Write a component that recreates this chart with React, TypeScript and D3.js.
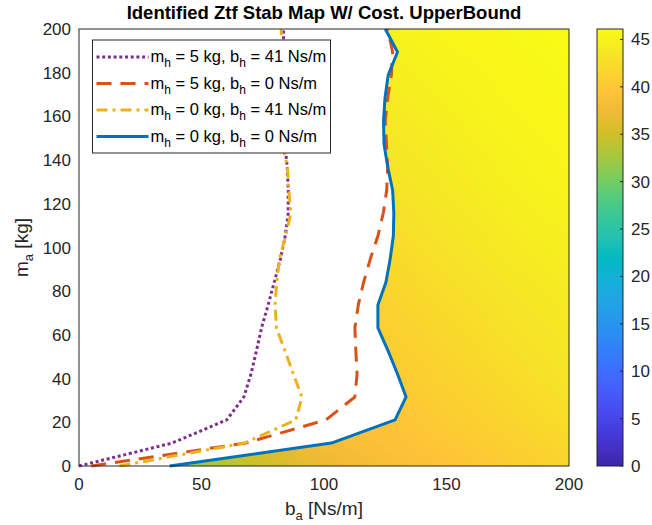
import React, { useMemo } from "react";
import * as d3 from "d3";

// Actuator mass grid at which each stability boundary was evaluated [kg]
const massGrid = [0, 10.5, 21.1, 31.6, 42.1, 52.6, 63.2, 73.7, 84.2, 94.7, 105.3, 115.8, 126.3, 136.8, 147.4, 157.9, 168.4, 178.9, 189.5, 200];

// Boundary damping b_a [Ns/m] for each human model
const boundM5B41 = [0, 38, 60.3, 67.3, 70.2, 72.4, 74.5, 77.2, 79.7, 82.2, 84.2, 85.4, 85.4, 85, 84, 84, 84, 83.5, 83.5, 83.5];
const boundM5B0 = [5, 68, 100.8, 112.6, 113.5, 113, 112.6, 114, 116.2, 118.9, 122, 124.2, 125.6, 126, 125.5, 125, 126, 127.5, 128, 126];
const boundM0B41 = [16.5, 67.5, 88.5, 91, 87.5, 84.1, 80.6, 80, 80.7, 81.8, 84.3, 86.5, 85.6, 85.1, 83, 83, 83, 83, 83, 82.5];
const boundM0B0 = [37, 103, 129, 133.5, 130, 126.2, 122, 122, 125.3, 127, 128.3, 128.5, 128, 126, 124.5, 124.3, 124.9, 126.2, 130, 125];

// Cost upper bound over the stable region (coarse sample grid)
const costDamping = [30, 50, 75, 100, 125, 150, 175, 200];
const costMass = [0, 10, 20, 40, 70, 100, 130, 160, 200];
const costRow0 = [30, 32.5, 35, 37, 38.5, 39.5, 40.5, 41.5];
const costRow10 = [31, 33.5, 36, 38, 39, 40, 41, 42];
const costRow20 = [32, 34.5, 37, 39, 39.5, 40.5, 41.5, 42.5];
const costRow40 = [34, 36.5, 38.5, 40, 40.3, 41.3, 42.3, 43.3];
const costRow70 = [36, 38.5, 40, 41, 41.2, 42.2, 43.2, 44];
const costRow100 = [38, 40, 41.5, 42, 42.2, 43.2, 44.1, 44.7];
const costRow130 = [40, 41.5, 42.5, 43, 43.2, 44, 44.8, 45.3];
const costRow160 = [41.5, 42.5, 43.5, 43.8, 44, 44.7, 45.3, 45.7];
const costRow200 = [43, 44, 44.5, 44.8, 45, 45.5, 45.8, 46];
const costRows = [costRow0, costRow10, costRow20, costRow40, costRow70, costRow100, costRow130, costRow160, costRow200];

const xTicks = [0, 50, 100, 150, 200];
const yTicks = [0, 20, 40, 60, 80, 100, 120, 140, 160, 180, 200];
const colorTicks = [0, 5, 10, 15, 20, 25, 30, 35, 40, 45];
const colorMax = 46.1;

// parula colormap samples
const parula = [
  [0.2422, 0.1504, 0.6603], [0.2647, 0.1978, 0.7952], [0.2783, 0.2559, 0.8991],
  [0.281, 0.3228, 0.9579], [0.2699, 0.3892, 0.9906], [0.2206, 0.4603, 0.9973],
  [0.1786, 0.5289, 0.9682], [0.154, 0.5902, 0.9218], [0.1248, 0.6459, 0.8883],
  [0.0689, 0.6948, 0.8394], [0.0067, 0.7312, 0.766], [0.1408, 0.7584, 0.6842],
  [0.2161, 0.7843, 0.5923], [0.3406, 0.8008, 0.4789], [0.5044, 0.7993, 0.348],
  [0.672, 0.7793, 0.2227], [0.8203, 0.7498, 0.1535], [0.9393, 0.7288, 0.21],
  [0.997, 0.7659, 0.2199], [0.9786, 0.8386, 0.1766], [0.9597, 0.9135, 0.1423],
  [0.9769, 0.9839, 0.0805],
].map(([r, g, b]) => d3.rgb(r * 255, g * 255, b * 255).formatHex());

const W = 652;
const H = 525;
const plot = { left: 79, right: 569, top: 29, bottom: 466 };
const cbar = { left: 597, right: 623 };
const FONT = "'Liberation Sans', Arial, Helvetica, sans-serif";

const series = [
  { key: "m5b41", values: boundM5B41, color: "#7E2F8E", dash: "3 2.7", mh: "5", bh: "41" },
  { key: "m5b0", values: boundM5B0, color: "#D95319", dash: "15 9", mh: "5", bh: "0" },
  { key: "m0b41", values: boundM0B41, color: "#EDB120", dash: "11 5 3 5", mh: "0", bh: "41" },
  { key: "m0b0", values: boundM0B0, color: "#0072BD", dash: null, mh: "0", bh: "0" },
];

function costAt(b: number, m: number) {
  const bc = Math.max(costDamping[0], Math.min(costDamping[costDamping.length - 1], b));
  const mc = Math.max(costMass[0], Math.min(costMass[costMass.length - 1], m));
  let i = d3.bisectRight(costDamping, bc) - 1;
  i = Math.max(0, Math.min(costDamping.length - 2, i));
  let j = d3.bisectRight(costMass, mc) - 1;
  j = Math.max(0, Math.min(costMass.length - 2, j));
  const tx = (bc - costDamping[i]) / (costDamping[i + 1] - costDamping[i]);
  const ty = (mc - costMass[j]) / (costMass[j + 1] - costMass[j]);
  const v00 = costRows[j][i], v10 = costRows[j][i + 1];
  const v01 = costRows[j + 1][i], v11 = costRows[j + 1][i + 1];
  return (v00 * (1 - tx) + v10 * tx) * (1 - ty) + (v01 * (1 - tx) + v11 * tx) * ty;
}

export default function App() {
  const x = d3.scaleLinear().domain([0, 200]).range([plot.left, plot.right]);
  const y = d3.scaleLinear().domain([0, 200]).range([plot.bottom, plot.top]);
  const cy = d3.scaleLinear().domain([0, colorMax]).range([plot.bottom, plot.top]);
  const color = d3.scaleSequential(d3.piecewise(d3.interpolateRgb, parula)).domain([0, colorMax]);

  const heatmapUrl = useMemo(() => {
    const w = plot.right - plot.left;
    const h = plot.bottom - plot.top;
    const canvas = document.createElement("canvas");
    canvas.width = w;
    canvas.height = h;
    const ctx = canvas.getContext("2d");
    if (!ctx) return "";
    const lut = d3.range(512).map((k) => d3.rgb(color((k / 511) * colorMax)));
    const img = ctx.createImageData(w, h);
    for (let py = 0; py < h; py++) {
      const m = y.invert(plot.top + py + 0.5);
      for (let px = 0; px < w; px++) {
        const b = x.invert(plot.left + px + 0.5);
        const v = costAt(b, m);
        const c = lut[Math.max(0, Math.min(511, Math.round((v / colorMax) * 511)))];
        const o = (py * w + px) * 4;
        img.data[o] = c.r;
        img.data[o + 1] = c.g;
        img.data[o + 2] = c.b;
        img.data[o + 3] = 255;
      }
    }
    ctx.putImageData(img, 0, 0);
    return canvas.toDataURL();
  }, []);

  const line = d3
    .line<number>()
    .x((d) => x(d))
    .y((_, i) => y(massGrid[i]));

  // stable region: to the right of the m_h = 0, b_h = 0 boundary
  const stablePts: [number, number][] = boundM0B0.map((b, i) => [x(b), y(massGrid[i])]);
  stablePts.push([x(200), y(200)], [x(200), y(0)]);
  const stablePath = "M" + stablePts.map((p) => p.join(",")).join("L") + "Z";

  const gradStops = parula.map((c, i) => ({ offset: i / (parula.length - 1), c }));

  const legend = { x: 92.5, y: 40, w: 238, h: 113, row: 26.5 };

  return (
    <svg width={W} height={H} style={{ position: "absolute", left: 0, top: 0, background: "#fff" }} fontFamily={FONT}>
      <defs>
        <clipPath id="stable">
          <path d={stablePath} />
        </clipPath>
        <linearGradient id="cbGrad" x1="0" y1="1" x2="0" y2="0">
          {gradStops.map((s, i) => (
            <stop key={i} offset={s.offset} stopColor={s.c} />
          ))}
        </linearGradient>
      </defs>

      <image
        href={heatmapUrl}
        x={plot.left}
        y={plot.top}
        width={plot.right - plot.left}
        height={plot.bottom - plot.top}
        preserveAspectRatio="none"
        clipPath="url(#stable)"
      />

      {series.map((s) => (
        <path
          key={s.key}
          d={line(s.values) || ""}
          fill="none"
          stroke={s.color}
          strokeWidth={3}
          strokeDasharray={s.dash || undefined}
          strokeLinejoin="round"
        />
      ))}

      <rect
        x={plot.left}
        y={plot.top}
        width={plot.right - plot.left}
        height={plot.bottom - plot.top}
        fill="none"
        stroke="#262626"
        strokeWidth={1}
      />

      {xTicks.map((t) => (
        <text key={"x" + t} x={x(t)} y={plot.bottom + 24} textAnchor="middle" fontSize={17} fill="#262626">
          {t}
        </text>
      ))}
      {yTicks.map((t) => (
        <text key={"y" + t} x={plot.left - 8} y={y(t) + 6} textAnchor="end" fontSize={17} fill="#262626">
          {t}
        </text>
      ))}

      <text x={(plot.left + plot.right) / 2} y={19} textAnchor="middle" fontSize={18.5} fontWeight="bold" fill="#000">
        Identified Ztf Stab Map W/ Cost. UpperBound
      </text>

      <text x={(plot.left + plot.right) / 2} y={515} textAnchor="middle" fontSize={19} fill="#262626">
        <tspan>b</tspan>
        <tspan dy={5} fontSize={13}>a</tspan>
        <tspan dy={-5}> [Ns/m]</tspan>
      </text>
      <text transform={`translate(28,${(plot.top + plot.bottom) / 2}) rotate(-90)`} textAnchor="middle" fontSize={19} fill="#262626">
        <tspan>m</tspan>
        <tspan dy={5} fontSize={13}>a</tspan>
        <tspan dy={-5}> [kg]</tspan>
      </text>

      <g>
        <rect x={legend.x} y={legend.y} width={legend.w} height={legend.h} fill="#fff" stroke="#262626" strokeWidth={1} />
        {series.map((s, i) => {
          const ry = legend.y + 17 + i * legend.row;
          return (
            <g key={"lg" + s.key}>
              <line
                x1={legend.x + 4}
                x2={legend.x + 56}
                y1={ry}
                y2={ry}
                stroke={s.color}
                strokeWidth={3}
                strokeDasharray={s.dash || undefined}
              />
              <text x={legend.x + 58} y={ry + 5} fontSize={16.5} fill="#000">
                <tspan>m</tspan>
                <tspan dy={5} fontSize={12}>h</tspan>
                <tspan dy={-5}>{` = ${s.mh} kg, b`}</tspan>
                <tspan dy={5} fontSize={12}>h</tspan>
                <tspan dy={-5}>{` = ${s.bh} Ns/m`}</tspan>
              </text>
            </g>
          );
        })}
      </g>

      <rect x={cbar.left} y={plot.top} width={cbar.right - cbar.left} height={plot.bottom - plot.top} fill="url(#cbGrad)" />
      <rect
        x={cbar.left}
        y={plot.top}
        width={cbar.right - cbar.left}
        height={plot.bottom - plot.top}
        fill="none"
        stroke="#262626"
        strokeWidth={1}
      />
      {colorTicks.map((t) => (
        <g key={"c" + t}>
          <line x1={cbar.right - 3} x2={cbar.right} y1={cy(t)} y2={cy(t)} stroke="#262626" strokeWidth={1} />
          <text x={cbar.right + 8} y={cy(t) + 6} fontSize={17} fill="#262626">
            {t}
          </text>
        </g>
      ))}
    </svg>
  );
}
